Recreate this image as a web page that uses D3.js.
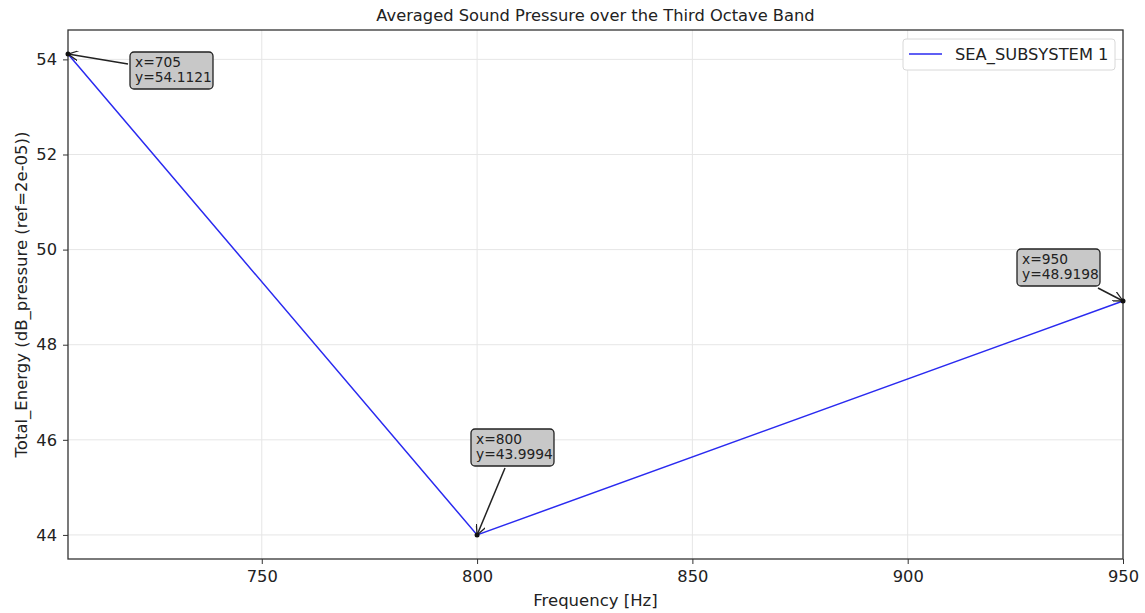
<!DOCTYPE html>
<html><head><meta charset="utf-8">
<script src="https://cdn.jsdelivr.net/npm/d3@7"></script>
<style>body{margin:0;background:#fff}text{font-family:"DejaVu Sans",sans-serif;fill:#222}</style>
</head><body><svg id="c" width="1145" height="613"></svg>
<script>
const freqs = [705, 800, 950];
const energy = [54.1121, 43.9994, 48.9198];
const xTicks = [750, 800, 850, 900, 950];
const yTicks = [44, 46, 48, 50, 52, 54];
const annotations = [
  {x: 705, y: 54.1121, label: ["x=705", "y=54.1121"]},
  {x: 800, y: 43.9994, label: ["x=800", "y=43.9994"]},
  {x: 950, y: 48.9198, label: ["x=950", "y=48.9198"]}
];
// annotation box offsets in px (layout)
const boxPos = [{bx:130, by:52, ax:128, ay:64}, {bx:471, by:429, ax:505, ay:468}, {bx:1017, by:249, ax:1098, ay:288}];

const svg = d3.select("#c");
const L = 68, R = 1123, T = 30, B = 559;
const yMin = d3.min(energy), yMax = d3.max(energy), pad = (yMax - yMin) * 0.05;
const x = d3.scaleLinear().domain([705, 950]).range([L, R]);
const y = d3.scaleLinear().domain([yMin - pad, yMax + pad]).range([B, T]);

svg.append("defs").append("marker").attr("id","ah").attr("viewBox","0 0 10 10").attr("refX",10).attr("refY",5)
  .attr("markerWidth",10).attr("markerHeight",10).attr("markerUnits","userSpaceOnUse").attr("orient","auto")
  .append("path").attr("d","M0,0 L10,5 L0,10").attr("fill","none").attr("stroke","#222").attr("stroke-width",1.3);

// grid
svg.append("g").selectAll("line").data(xTicks).join("line")
  .attr("x1", d => x(d)).attr("x2", d => x(d)).attr("y1", T).attr("y2", B)
  .attr("stroke", "#e6e6e6").attr("stroke-width", 1);
svg.append("g").selectAll("line").data(yTicks).join("line")
  .attr("x1", L).attr("x2", R).attr("y1", d => y(d)).attr("y2", d => y(d))
  .attr("stroke", "#e6e6e6").attr("stroke-width", 1);

// axes
const xa = svg.append("g").attr("transform", `translate(0,${B})`)
  .call(d3.axisBottom(x).tickValues(xTicks).tickSize(5).tickPadding(6).tickFormat(d3.format("d")));
const ya = svg.append("g").attr("transform", `translate(${L},0)`)
  .call(d3.axisLeft(y).tickValues(yTicks).tickSize(5).tickPadding(6).tickFormat(d3.format("d")));
[xa, ya].forEach(a => {
  a.select(".domain").remove();
  a.selectAll("text").attr("font-size", 16.3).attr("font-family", "DejaVu Sans").attr("fill", "#222");
  a.selectAll("line").attr("stroke", "#333");
});
svg.append("rect").attr("x", L).attr("y", T).attr("width", R - L).attr("height", B - T)
  .attr("fill", "none").attr("stroke", "#333").attr("stroke-width", 1.3);

// line
svg.append("path").datum(freqs.map((f, i) => [f, energy[i]]))
  .attr("d", d3.line().x(d => x(d[0])).y(d => y(d[1])))
  .attr("fill", "none").attr("stroke", "#2a2af0").attr("stroke-width", 1.5);

// annotations
annotations.forEach((a, i) => {
  const p = boxPos[i];
  const g = svg.append("g");
  g.append("line").attr("x1", p.ax).attr("y1", p.ay).attr("x2", x(a.x)).attr("y2", y(a.y))
    .attr("stroke", "#222").attr("stroke-width", 1.5).attr("marker-end", "url(#ah)");
  g.append("circle").attr("cx", x(a.x)).attr("cy", y(a.y)).attr("r", 2.5).attr("fill", "#111");
  g.append("rect").attr("x", p.bx).attr("y", p.by).attr("width", 83).attr("height", 37).attr("rx", 4)
    .attr("fill", "#c8c8c8").attr("stroke", "#222").attr("stroke-width", 1.3);
  a.label.forEach((t, j) => g.append("text").attr("x", p.bx + 5).attr("y", p.by + 15 + j * 15)
    .attr("font-size", 13.8).text(t));
});

// legend
const lg = svg.append("g");
lg.append("rect").attr("x", 903).attr("y", 39).attr("width", 212).attr("height", 31).attr("rx", 3)
  .attr("fill", "#fff").attr("stroke", "#d8d8d8");
lg.append("line").attr("x1", 909).attr("x2", 942).attr("y1", 54).attr("y2", 54).attr("stroke", "#2a2af0").attr("stroke-width", 1.5);
lg.append("text").attr("x", 955).attr("y", 60).attr("font-size", 16.3).text("SEA_SUBSYSTEM 1");

// titles
svg.append("text").attr("x", (L + R) / 2).attr("y", 21).attr("text-anchor", "middle").attr("font-size", 16.3)
  .text("Averaged Sound Pressure over the Third Octave Band");
svg.append("text").attr("x", (L + R) / 2).attr("y", 606).attr("text-anchor", "middle").attr("font-size", 16.5)
  .text("Frequency [Hz]");
svg.append("text").attr("transform", `translate(27,${(T + B) / 2}) rotate(-90)`).attr("text-anchor", "middle")
  .attr("font-size", 16.5).text("Total_Energy (dB_pressure (ref=2e-05))");
</script></body></html>
